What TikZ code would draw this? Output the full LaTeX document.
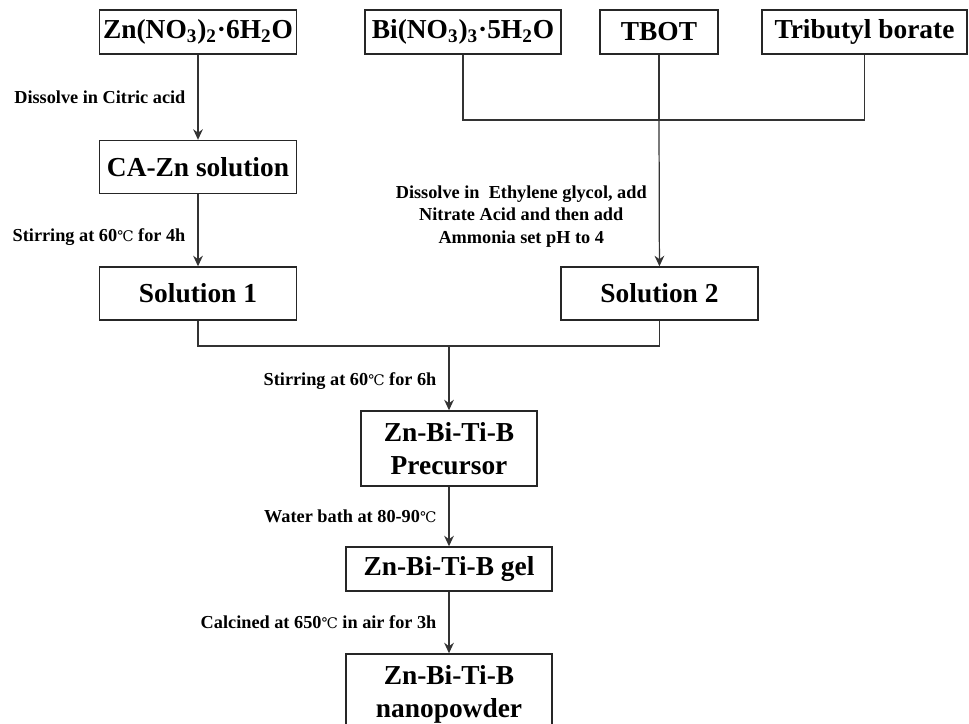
\documentclass[tikz,border=0pt]{standalone}
\usepackage{fontspec}
\setmainfont{Liberation Serif}
\newfontfamily\degfont[Scale=0.8]{DejaVu Serif}
\newcommand{\celsius}{{\degfont\mdseries ℃}}
\usepackage{tikz}
\usetikzlibrary{shapes.geometric, arrows, arrows.meta}
\tikzstyle{rec} = [rectangle, minimum width=3.94cm, minimum height=0.88cm, text centered, draw=black!85, line width=0.8pt, inner sep=1pt, font=\bfseries\fontsize{15.6}{18.8}\selectfont]
\tikzstyle{lab} = [font=\bfseries\fontsize{10.4}{12.8}\selectfont, inner sep=0pt, left, xshift=-0.24cm]
\tikzstyle{arrow} = [line width=0.7pt, draw=black!80, -{Stealth[length=6pt,width=5.5pt]}]
\tikzstyle{line} = [line width=0.7pt, draw=black!80]

\begin{document}
\begin{tikzpicture}[align=center,node distance=4cm]
        \useasboundingbox (0,0) rectangle (19.38,-14.46);
        \node (zn) [rec] at (3.96,-0.64) {Zn(NO\textsubscript{3})\textsubscript{2}·6H\textsubscript{2}O};
        \node (bi) [rec, right of=zn, node distance=5.3cm, minimum width=3.92cm] {Bi(NO\textsubscript{3})\textsubscript{3}·5H\textsubscript{2}O};
        \node (tbot) [rec, right of=bi, node distance=3.92cm, minimum width=2.36cm] {TBOT};
        \node (trib) [rec, right of=tbot, node distance=4.11cm, minimum width=4.1cm] {Tributyl borate};
        \node (cazn) [rec, below of=zn, node distance=2.7cm, minimum height=1.06cm] {CA-Zn solution};
        \node (sol1) [rec, below of=cazn, node distance=2.53cm, minimum height=1.06cm] {Solution 1};
        \node (sol2) [rec, right of=sol1, node distance=9.23cm, minimum height=1.06cm] {Solution 2};
        \coordinate [below of=tbot, node distance=1.76cm] (join1);
        \coordinate (join2) at (8.98,-6.92);
        \node (prec) [rec, below of=join2, node distance=2.05cm, minimum width=3.52cm, minimum height=1.5cm] {Zn-Bi-Ti-B\\Precursor};
        \node (gel) [rec, below of=prec, node distance=2.41cm, minimum width=4.12cm] {Zn-Bi-Ti-B gel};
        \node (nano) [rec, below of=gel, node distance=2.5cm, minimum width=4.12cm, minimum height=1.6cm] {Zn-Bi-Ti-B\\nanopowder};
        \draw [arrow] (zn) -- node [lab] (dis1) {Dissolve in Citric acid} (cazn);
        \draw [arrow] (cazn) -- node [lab, pos=0.59] (stir1) {Stirring at 60\celsius{} for 4h} (sol1);
        \draw [line] (bi) |- (join1) -| (trib);
        \draw [line] (tbot) -- (join1);
        \draw [arrow] (join1) -- node [lab, pos=0.66] (dis2) {Dissolve in\ \ Ethylene glycol, add\\Nitrate Acid and then add\\Ammonia set pH to 4} (sol2);
        \draw [line] (sol1) |- (join2) -| (sol2);
        \draw [arrow] (join2) -- node [lab, pos=0.55] (stir2) {Stirring at 60\celsius{} for 6h} (prec);
        \draw [arrow] (prec) -- node [lab] (bath) {Water bath at 80-90\celsius} (gel);
        \draw [arrow] (gel) -- node [lab] (calc) {Calcined at 650\celsius{} in air for 3h} (nano);
    \end{tikzpicture}
\end{document}
